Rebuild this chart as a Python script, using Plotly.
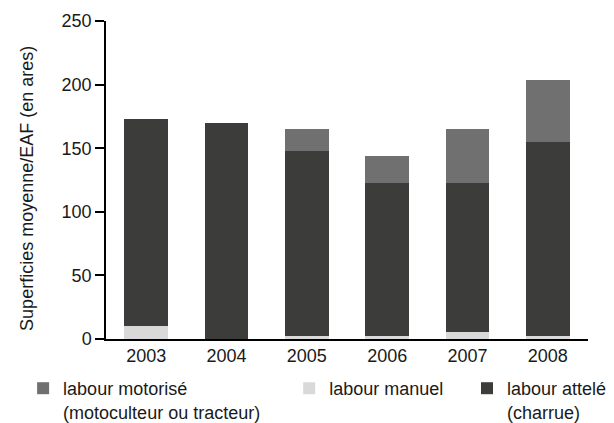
import plotly.graph_objects as go

# Superficie moyenne par EAF selon le mode de labour (ares)
annees = ["2003", "2004", "2005", "2006", "2007", "2008"]
labour_manuel = [10, 0, 2.5, 2.5, 5.5, 2.5]
labour_attele = [163, 170, 145.5, 120.5, 117.5, 152.5]
labour_motorise = [0, 0, 17, 21, 42, 49]

y_ticks = [0, 50, 100, 150, 200, 250]

police = dict(family="Liberation Sans, Arial, sans-serif", size=18, color="#1a1a1a")

fig = go.Figure()
# ordre d'empilement : manuel en bas, attelé au milieu, motorisé en haut
fig.add_trace(go.Bar(x=annees, y=labour_manuel, name="labour manuel",
                     marker=dict(color="#d9d9d9", line_width=0), legend="legend2"))
fig.add_trace(go.Bar(x=annees, y=labour_attele, name="labour attelé<br>(charrue)",
                     marker=dict(color="#3c3c3a", line_width=0), legend="legend3"))
fig.add_trace(go.Bar(x=annees, y=labour_motorise, name="labour motorisé<br>(motoculteur ou tracteur)",
                     marker=dict(color="#707070", line_width=0), legend="legend"))

# trois légendes séparées, placées sous le graphique
leg = dict(orientation="v", yanchor="top", y=-0.0975, xanchor="left",
           font=police, bgcolor="rgba(0,0,0,0)", valign="top", itemwidth=30, visible=True)

fig.update_layout(
    barmode="stack",
    bargap=0.46,
    showlegend=True,
    width=614, height=423,
    margin=dict(l=98, r=34, t=13, b=92, autoexpand=False),
    plot_bgcolor="white", paper_bgcolor="white",
    font=police,
    legend=dict(leg, x=-0.172),
    legend2=dict(leg, x=0.38),
    legend3=dict(leg, x=0.749),
    xaxis=dict(showline=True, linecolor="black", linewidth=1.5, ticks="",
               tickfont=police, showgrid=False),
    yaxis=dict(range=[0, 250], tickvals=y_ticks, showline=True, linecolor="black",
               linewidth=1.5, ticks="outside", ticklen=9, tickcolor="black", tickwidth=1.5,
               showgrid=False, zeroline=False, tickfont=police),
    # titre de l'axe y, un peu plus bas que le centre comme dans l'original
    annotations=[dict(text="Superficies moyenne/EAF (en ares)", textangle=-90,
                      xref="paper", yref="paper", x=-0.164, y=0.475,
                      xanchor="center", yanchor="middle", showarrow=False, font=police)],
)

fig.write_html("out.html")
